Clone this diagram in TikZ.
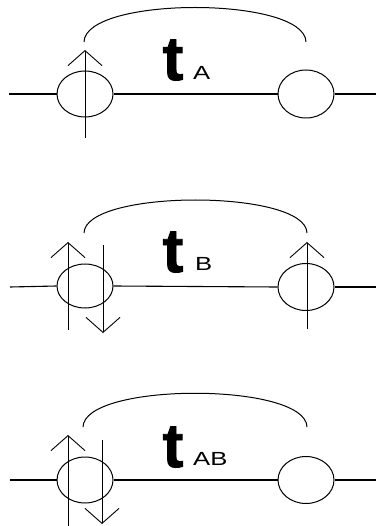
\documentclass[tikz,border=0pt]{standalone}
\usepackage{fontspec}
\usepackage{graphicx}
\setmainfont{Liberation Sans}
\newfontfamily\heavyfont[FakeBold=1.5]{Liberation Sans Bold}
\usetikzlibrary{shapes.geometric,arrows.meta}
\tikzset{
  site/.style={draw,ellipse,minimum width=56pt,minimum height=46pt,inner sep=0pt,line width=1pt},
  bond/.style={line width=1.1pt},
  spinarrow/.style={line width=0.9pt,-{Straight Barb[length=15pt,width=34pt,line width=0.9pt]}},
  hop/.style={line width=1pt},
  tlabel/.style={font=\heavyfont\fontsize{62}{62}\selectfont,inner sep=0pt,anchor=base},
  sublabel/.style={font=\fontsize{19}{19}\selectfont,inner sep=0pt,anchor=base west}
}
\newcommand{\wsub}[1]{\scalebox{1.35}[1]{#1}}
\begin{document}
\begin{tikzpicture}[x=1pt,y=-1pt]
\useasboundingbox (0,0) rectangle (376,526);
% ---------- panel 1 ----------
\coordinate (l1) at (9,94);
\coordinate (r1) at (376,94);
\node[site] (a1) at (85,94) {};
\node[site,minimum height=48pt] (b1) at (306,94) {};
\draw[bond] (l1) -- (a1.west);
\draw[bond] (a1.east) -- (b1.west);
\draw[bond] (b1.east) -- (r1);
\coordinate (u1s) at (85,138);
\coordinate (u1e) at (85,50);
\draw[spinarrow] (u1s) -- (u1e);
\coordinate (h1s) at (84,42);
\coordinate (h1e) at (306,42);
\draw[hop] (h1s) .. controls (85,-4) and (305,-4) .. (h1e);
\node[tlabel] (t1) at (173,80) {t};
\node[sublabel] (s1) at (193,80) {\wsub{A}};
% ---------- panel 2 ----------
\coordinate (l2) at (10,287);
\coordinate (r2) at (376,287);
\node[site,minimum height=44pt] (a2) at (85,286) {};
\node[site,minimum height=47pt] (b2) at (306,287) {};
\draw[bond] (l2) -- (a2.west);
\draw[bond] (a2.east) -- (b2.west);
\draw[bond] (b2.east) -- (r2);
\coordinate (u2s) at (68,330);
\coordinate (u2e) at (68,242);
\draw[spinarrow] (u2s) -- (u2e);
\coordinate (d2s) at (103,245);
\coordinate (d2e) at (103,333);
\draw[spinarrow] (d2s) -- (d2e);
\coordinate (v2s) at (307,329);
\coordinate (v2e) at (307,242);
\draw[spinarrow] (v2s) -- (v2e);
\coordinate (h2s) at (84,233);
\coordinate (h2e) at (307,233);
\draw[hop] (h2s) .. controls (85,189) and (306,189) .. (h2e);
\node[tlabel] (t2) at (173,272) {t};
\node[sublabel] (s2) at (195,270) {\wsub{B}};
% ---------- panel 3 ----------
\coordinate (l3) at (10,480);
\coordinate (r3) at (376,480);
\node[site] (a3) at (85,480) {};
\node[site,minimum height=47pt] (b3) at (306,480) {};
\draw[bond] (l3) -- (a3.west);
\draw[bond] (a3.east) -- (b3.west);
\draw[bond] (b3.east) -- (r3);
\coordinate (u3s) at (68,526);
\coordinate (u3e) at (68,435);
\draw[spinarrow] (u3s) -- (u3e);
\coordinate (d3s) at (102,440);
\coordinate (d3e) at (102,524);
\draw[spinarrow] (d3s) -- (d3e);
\coordinate (h3s) at (83,427);
\coordinate (h3e) at (307,427);
\draw[hop] (h3s) .. controls (84,382) and (306,382) .. (h3e);
\node[tlabel] (t3) at (173,467) {t};
\node[sublabel] (s3) at (193,465) {\wsub{AB}};
\end{tikzpicture}
\end{document}
